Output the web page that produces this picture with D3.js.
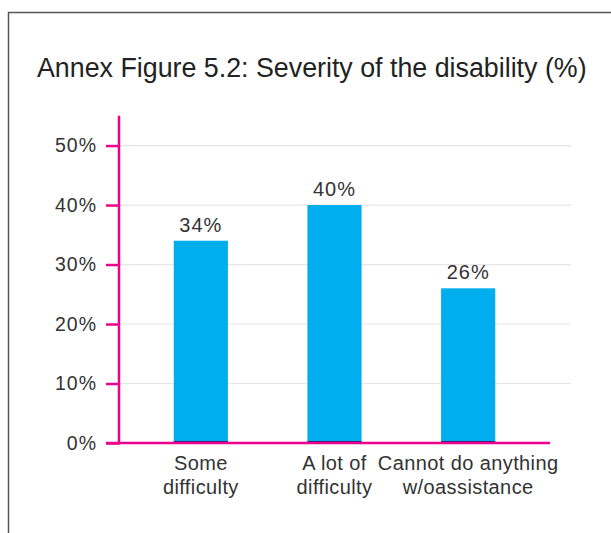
<!DOCTYPE html>
<html>
<head>
<meta charset="utf-8">
<script src="https://cdn.jsdelivr.net/npm/d3@7"></script>
<style>
  html, body { margin: 0; padding: 0; background: #fff; }
  svg { display: block; }
  text { font-family: "Liberation Sans", Arial, Helvetica, sans-serif; fill: #333; }
</style>
</head>
<body>
<svg id="chart" width="611" height="533"></svg>
<script>
// Severity of the disability, share of respondents (%)
const categories = ["Some difficulty", "A lot of difficulty", "Cannot do anything w/oassistance"];
const labelLines = [["Some", "difficulty"], ["A lot of", "difficulty"], ["Cannot do anything", "w/oassistance"]];
const values = [34, 40, 26];
const yTicks = [0, 10, 20, 30, 40, 50];
const title = "Annex Figure 5.2: Severity of the disability (%)";

const svg = d3.select("#chart");
const pink = "#ec008c";
const barColor = "#00adef";

// Outer frame (top and left edges visible)
svg.append("path")
  .attr("d", "M8.5,533 V12.5 H611")
  .attr("fill", "none")
  .attr("stroke", "#555")
  .attr("stroke-width", 1.5);

// Title
svg.append("text")
  .attr("x", 37)
  .attr("y", 77)
  .attr("font-size", 26.8)
  .style("fill", "#222")
  .text(title);

const y = d3.scaleLinear().domain([0, 55]).range([443, 115.8]);
const x = d3.scaleBand().domain(categories).range([134, 535]).padding(0);
const barW = x.bandwidth() * 0.405;

// Gridlines
svg.append("g")
  .selectAll("line")
  .data(yTicks.filter(d => d > 0))
  .join("line")
  .attr("x1", 119).attr("x2", 571)
  .attr("y1", d => y(d)).attr("y2", d => y(d))
  .attr("stroke", "#e6e6e6")
  .attr("stroke-width", 1.2);

// Bars
const bars = svg.append("g");
bars.selectAll("rect")
  .data(values)
  .join("rect")
  .attr("x", (d, i) => x(categories[i]) + (x.bandwidth() - barW) / 2)
  .attr("width", barW)
  .attr("y", d => y(d))
  .attr("height", d => y(0) - y(d))
  .attr("fill", barColor);

// Value labels
svg.append("g")
  .selectAll("text")
  .data(values)
  .join("text")
  .attr("x", (d, i) => x(categories[i]) + x.bandwidth() / 2)
  .attr("y", d => y(d) - 9)
  .attr("text-anchor", "middle")
  .attr("font-size", 20)
  .attr("letter-spacing", 1)
  .text(d => d + "%");

// Y axis
const yAxis = d3.axisLeft(y)
  .tickValues(yTicks)
  .tickSize(13)
  .tickPadding(9)
  .tickFormat(d => d + "%");
const gy = svg.append("g").attr("transform", "translate(119,0)").call(yAxis);
gy.select(".domain").remove();
gy.selectAll(".tick line").attr("stroke", pink).attr("stroke-width", 2.5);
gy.selectAll(".tick text")
  .attr("font-size", 19.5)
  .attr("letter-spacing", 1)
  .attr("font-family", null)
  .attr("fill", null)
  .style("fill", "#333");

// Axis lines
svg.append("line")
  .attr("x1", 119).attr("x2", 119)
  .attr("y1", y(55)).attr("y2", y(0) + 1.5)
  .attr("stroke", pink).attr("stroke-width", 2.5);
svg.append("line")
  .attr("x1", 106).attr("x2", 550)
  .attr("y1", y(0)).attr("y2", y(0))
  .attr("stroke", pink).attr("stroke-width", 2.5);

// Dark base edge of each bar
bars.selectAll("line")
  .data(values)
  .join("line")
  .attr("x1", (d, i) => x(categories[i]) + (x.bandwidth() - barW) / 2)
  .attr("x2", (d, i) => x(categories[i]) + (x.bandwidth() + barW) / 2)
  .attr("y1", y(0) - 1.3).attr("y2", y(0) - 1.3)
  .attr("stroke", "#1d2a7a")
  .attr("stroke-width", 1.2);

// Category labels
const xl = svg.append("g")
  .selectAll("text")
  .data(categories)
  .join("text")
  .attr("text-anchor", "middle")
  .attr("font-size", 20)
  .attr("letter-spacing", 0.4)
  .attr("x", d => x(d) + x.bandwidth() / 2)
  .attr("y", 470);
xl.selectAll("tspan")
  .data((d, i) => labelLines[i])
  .join("tspan")
  .attr("x", function () { return d3.select(this.parentNode).attr("x"); })
  .attr("dy", (d, j) => j === 0 ? 0 : 24)
  .text(d => d);
</script>
</body>
</html>
